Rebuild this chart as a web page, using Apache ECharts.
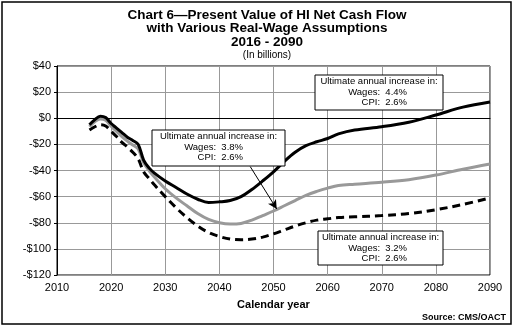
<!DOCTYPE html>
<html>
<head>
<meta charset="utf-8">
<script src="https://cdn.jsdelivr.net/npm/echarts@6/dist/echarts.min.js"></script>
<style>
  html, body { margin: 0; padding: 0; background: #fff; }
  #chart { width: 519px; height: 328px; }
</style>
</head>
<body>
<div id="chart"></div>
<script>
// Projection years (denser around the 2025 drop)
const years = [2016, 2017, 2018, 2019, 2020, 2021, 2022, 2023, 2024, 2025, 2026, 2027, 2028,
  2030, 2032, 2034, 2036, 2038, 2040, 2042, 2044, 2046, 2048, 2050, 2052, 2054, 2056, 2058,
  2060, 2062, 2065, 2070, 2075, 2080, 2085, 2090];

// Present value of HI net cash flow, $ billions
const wages44 = [-5, -1, 1.5, 0.5, -4, -7.5, -11, -14.5, -17, -20, -32, -38, -42,
  -48, -53, -58, -62, -64.5, -64, -63, -60, -54.5, -48, -41, -33, -26, -21, -18,
  -15.5, -12, -9, -6.5, -3, 2.5, 8.5, 12.5];
const wages38 = [-6.5, -2.5, -0.5, -1.5, -6, -10, -14, -17.5, -20.5, -23.5, -34, -40, -45,
  -54, -61, -67, -73, -77.5, -80, -81, -80.5, -78, -74.5, -71, -67, -63, -59, -56,
  -53.5, -51.5, -50.5, -49, -47, -43.5, -39, -35];
const wages32 = [-9, -6.5, -5, -6, -10, -14, -18.5, -22, -26, -31, -41, -46, -51,
  -60, -68.5, -76, -82.5, -87.5, -90.5, -92.5, -93, -92.5, -91, -88.5, -85.5, -82.5, -80, -78,
  -77, -76, -75.5, -74.5, -73, -70, -66, -61];

const xTicks = [2010, 2020, 2030, 2040, 2050, 2060, 2070, 2080, 2090];
const yTicks = [-120, -100, -80, -60, -40, -20, 0, 20, 40];

const titleLines = ['Chart 6\u2014Present Value of HI Net Cash Flow',
  'with Various Real-Wage Assumptions', '2016 - 2090'];
const subtitle = '(In billions)';

const boxText = {
  high: ['Ultimate annual increase in:', 'Wages:  4.4%', 'CPI:  2.6%'],
  mid: ['Ultimate annual increase in:', 'Wages:  3.8%', 'CPI:  2.6%'],
  low: ['Ultimate annual increase in:', 'Wages:  3.2%', 'CPI:  2.6%']
};

const FONT = 'Liberation Sans, Arial, sans-serif';
const pair = vals => years.map((y, i) => [y, vals[i]]);

function noteBox(x, y, w, h, lines, rightEdge) {
  return {
    type: 'group',
    children: [
      { type: 'rect', shape: { x: x, y: y, width: w, height: h },
        style: { fill: '#fff', stroke: '#000', lineWidth: 1 }, z: 10 },
      { type: 'text', x: x + w / 2, y: y + 6, z: 11,
        style: { text: lines[0], font: '9.5px ' + FONT, fill: '#000', textAlign: 'center', textVerticalAlign: 'middle' } },
      { type: 'text', x: rightEdge, y: y + 17, z: 11,
        style: { text: lines[1], font: '9.5px ' + FONT, fill: '#000', textAlign: 'right', textVerticalAlign: 'middle' } },
      { type: 'text', x: rightEdge, y: y + 27.5, z: 11,
        style: { text: lines[2], font: '9.5px ' + FONT, fill: '#000', textAlign: 'right', textVerticalAlign: 'middle' } }
    ]
  };
}

function titleText(text, y, font) {
  return { type: 'text', x: 267, y: y, z: 11,
    style: { text: text, font: font, fill: '#000', textAlign: 'center', textVerticalAlign: 'middle' } };
}

const chart = echarts.init(document.getElementById('chart'), null, { renderer: 'canvas' });

chart.setOption({
  animation: false,
  backgroundColor: '#fff',
  grid: { left: 57, right: 29, top: 66, bottom: 53, show: true, borderColor: '#000', borderWidth: 1 },
  xAxis: {
    type: 'value', min: xTicks[0], max: xTicks[xTicks.length - 1], interval: 10,
    name: 'Calendar year', nameLocation: 'middle', nameGap: 24,
    nameTextStyle: { fontFamily: FONT, fontWeight: 'bold', fontSize: 11, color: '#000' },
    axisLine: { lineStyle: { color: '#000' } },
    axisTick: { show: false },
    axisLabel: { fontFamily: FONT, fontSize: 11, color: '#000', margin: 7, formatter: v => String(v) },
    splitLine: { show: true, lineStyle: { color: '#999', width: 1 } }
  },
  yAxis: {
    type: 'value', min: yTicks[0], max: yTicks[yTicks.length - 1], interval: 20,
    axisLine: { show: true, lineStyle: { color: '#000' } },
    axisTick: { show: true, length: 3, lineStyle: { color: '#000' } },
    axisLabel: { fontFamily: FONT, fontSize: 11, color: '#000', margin: 6,
      formatter: v => (v < 0 ? '-$' + Math.abs(v) : '$' + v) },
    splitLine: { show: true, lineStyle: { color: '#999', width: 1 } }
  },
  series: [
    { name: 'Wages 3.2%', type: 'line', data: pair(wages32), smooth: 0.35, showSymbol: false,
      lineStyle: { color: '#000', width: 3, type: [8, 5] }, z: 3 },
    { name: 'Wages 3.8%', type: 'line', data: pair(wages38), smooth: 0.35, showSymbol: false,
      lineStyle: { color: '#999', width: 3 }, z: 4,
      markLine: {
        silent: true, symbol: ['none', 'arrow'], symbolSize: [7, 9],
        lineStyle: { color: '#000', width: 1, type: 'solid' }, label: { show: false },
        data: [[{ coord: [2045.7, -37] }, { coord: [2050.6, -69.5] }]]
      } },
    { name: 'Wages 4.4%', type: 'line', data: pair(wages44), smooth: 0.35, showSymbol: false,
      lineStyle: { color: '#000', width: 3 }, z: 5 }
  ],
  graphic: [
    { type: 'rect', shape: { x: 2, y: 2, width: 509, height: 322 },
      style: { fill: 'none', stroke: '#000', lineWidth: 1.5 }, z: 20 },
    titleText(titleLines[0], 15, 'bold 13.5px ' + FONT),
    titleText(titleLines[1], 28.5, 'bold 13.5px ' + FONT),
    titleText(titleLines[2], 42, 'bold 13.5px ' + FONT),
    titleText(subtitle, 55, '10px ' + FONT),
    noteBox(315, 75, 128, 35, boxText.high, 407),
    noteBox(152, 130, 133, 36, boxText.mid, 243),
    noteBox(318, 231, 125, 34, boxText.low, 407),
    { type: 'text', x: 506, y: 318, z: 11,
      style: { text: 'Source: CMS/OACT', font: 'bold 9px ' + FONT, fill: '#000', textAlign: 'right', textVerticalAlign: 'middle' } }
  ]
});
</script>
</body>
</html>
